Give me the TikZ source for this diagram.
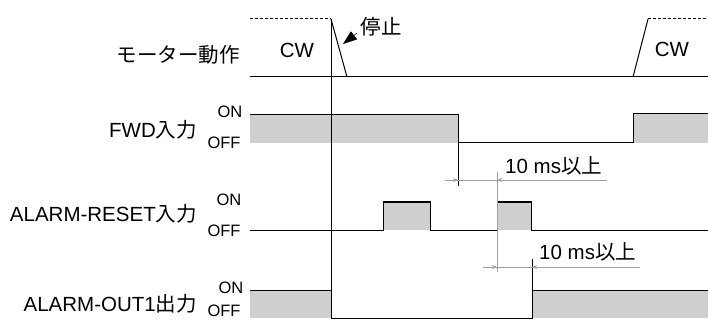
\documentclass[tikz,border=0pt]{standalone}
\usepackage{fontspec}
\setmainfont{Liberation Sans}
\newfontfamily\jp{Noto Sans CJK JP}
\usetikzlibrary{arrows.meta}
\begin{document}
\begin{tikzpicture}[x=1pt,y=-1pt,
  sig/.style={line width=1pt,black},
  shade/.style={fill=gray!38,draw=none},
  dimln/.style={line width=0.7pt,gray!75},
  lbl/.style={font=\fontsize{20.5}{20.5}\selectfont,inner sep=0pt},
  lvl/.style={font=\fontsize{16.5}{16.5}\selectfont,inner sep=0pt},
  dimarrow/.style={-{Stealth[open,length=5pt,width=4pt]},dimln}]
\useasboundingbox (0,0) rectangle (708,320);
\fill[white] (0,0) rectangle (708,320);
% coordinates
\coordinate (stop) at (331,19);
% ---------- labels ----------
\node[lbl,anchor=east] (mlab) at (240,55) {\jp モーター動作};
\node[lbl,anchor=east] (flab) at (197,130) {FWD\jp 入力};
\node[lbl,anchor=east] (rlab) at (197,214) {ALARM-RESET\jp 入力};
\node[lbl,anchor=east] (olab) at (197,304) {ALARM-OUT1\jp 出力};
\node[lvl] (fon) at (230,112) {ON};
\node[lvl] (foff) at (224,143) {OFF};
\node[lvl] (ron) at (229,200) {ON};
\node[lvl] (roff) at (224,231) {OFF};
\node[lvl] (oon) at (231,288) {ON};
\node[lvl] (ooff) at (224,311) {OFF};
\node[lbl] (cw1) at (297,50) {CW};
\node[lbl] (cw2) at (672,49) {CW};
\node[lbl] (stoplab) at (381,27) {\jp 停止};
\node[lbl,anchor=west] (d1) at (505,166) {10 ms\jp 以上};
\node[lbl,anchor=west] (d2) at (539,252) {10 ms\jp 以上};
% ---------- shading ----------
\fill[shade] (250,115) rectangle (458,143);
\fill[shade] (633,114) rectangle (708,143);
\fill[shade] (383,202) rectangle (430,230);
\fill[shade] (497,202) rectangle (531,230);
\fill[shade] (250,290) rectangle (331,318);
\fill[shade] (532,290) rectangle (708,318);
% ---------- motor ----------
\draw[sig,densely dashed] (250,19) -- (331,19);
\draw[sig] (331,19) -- (347,77);
\draw[sig] (250,77) -- (708,77);
\draw[sig] (633,77) -- (648,19);
\draw[sig,densely dashed] (648,19) -- (708,19);
\draw[-{Triangle[length=14pt,width=10pt]},line width=0.5pt] (357,33) -- (343,44);
% main vertical
\draw[line width=0.9pt] (stop) -- (331,318);
% ---------- FWD ----------
\draw[sig] (250,115) -- (458,115) -- (458,143) -- (633,143) -- (633,114) -- (708,114);
\draw[line width=0.9pt] (458,143) -- (458,186);
% ---------- ALARM-RESET ----------
\draw[sig] (250,230) -- (383,230) -- (383,202) -- (430,202) -- (430,230) -- (497,230);
\draw[sig] (497,202) -- (531,202) -- (531,230) -- (708,230);
\draw[sig,gray!80!black] (497,230) -- (497,202);
\draw[dimln] (497,172) -- (497,272);
% ---------- ALARM-OUT1 ----------
\draw[sig] (250,290) -- (331,290) -- (331,318) -- (532,318) -- (532,290) -- (708,290);
\draw[line width=0.9pt] (532,318) -- (532,259);
% ---------- dimensions ----------
\draw[dimln] (445,180) -- (607,180);
\draw[dimarrow] (446,180) -- (458,180);
\draw[dimarrow] (509,180) -- (497,180);
\draw[dimln] (483,267) -- (640,267);
\draw[dimarrow] (484,267) -- (497,267);
\draw[dimarrow] (545,267) -- (532,267);
\end{tikzpicture}
\end{document}
